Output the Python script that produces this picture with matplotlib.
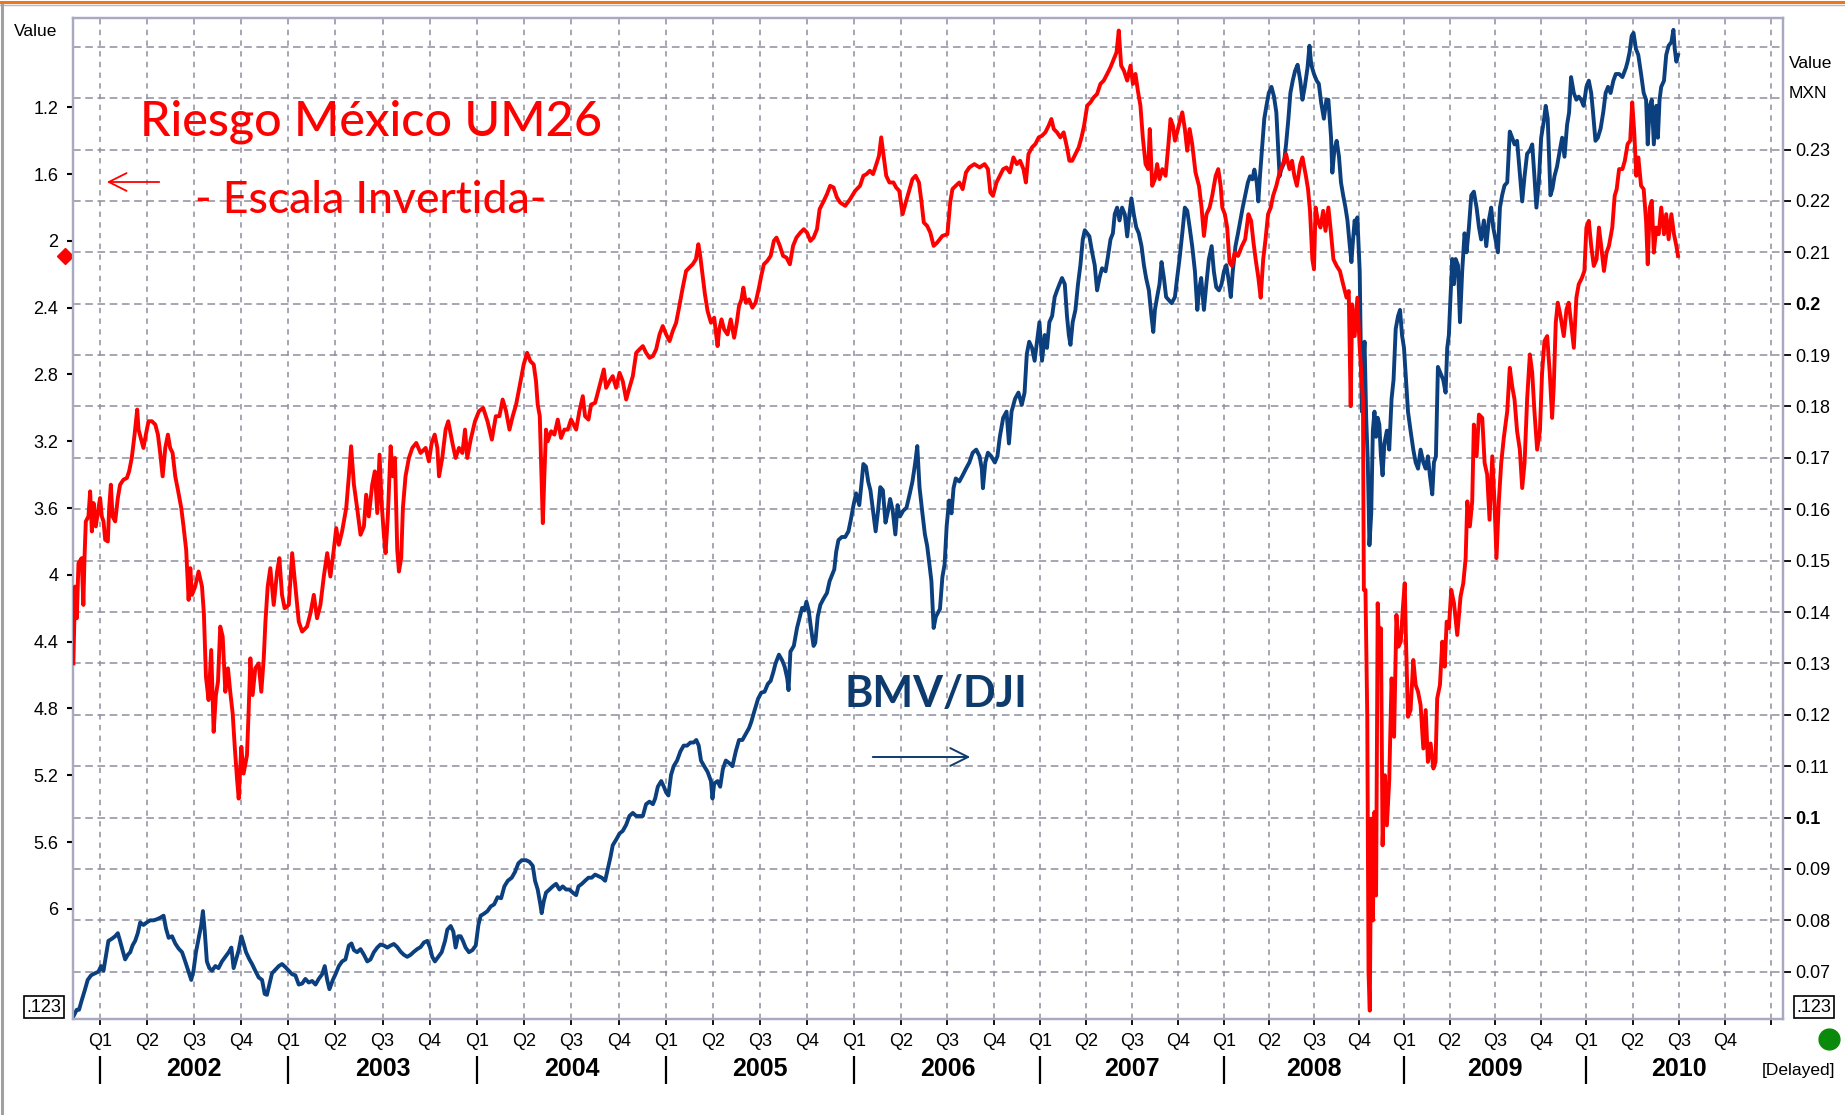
import numpy as np
import matplotlib
matplotlib.use("Agg")
import matplotlib.pyplot as plt
from matplotlib.lines import Line2D

# Riesgo Mexico UM26 (left axis, inverted) - time in decimal years
red_time = [
    2001.858, 2001.867, 2001.876, 2001.885, 2001.902, 2001.911, 2001.917, 2001.924, 2001.938, 2001.947,
    2001.956, 2001.965, 2001.977, 2001.991, 2002.000, 2002.009, 2002.018, 2002.027, 2002.041, 2002.048,
    2002.057, 2002.066, 2002.080, 2002.094, 2002.106, 2002.124, 2002.142, 2002.154, 2002.168, 2002.183,
    2002.197, 2002.204, 2002.218, 2002.230, 2002.243, 2002.257, 2002.275, 2002.293, 2002.307, 2002.319,
    2002.332, 2002.346, 2002.360, 2002.372, 2002.385, 2002.399, 2002.413, 2002.431, 2002.443, 2002.457,
    2002.470, 2002.479, 2002.488, 2002.505, 2002.523, 2002.541, 2002.551, 2002.562, 2002.576, 2002.590,
    2002.603, 2002.615, 2002.626, 2002.638, 2002.651, 2002.665, 2002.679, 2002.691, 2002.704, 2002.715,
    2002.727, 2002.736, 2002.750, 2002.762, 2002.780, 2002.789, 2002.798, 2002.810, 2002.824, 2002.842,
    2002.856, 2002.869, 2002.878, 2002.890, 2002.904, 2002.922, 2002.940, 2002.952, 2002.966, 2002.980,
    2003.002, 2003.020, 2003.037, 2003.055, 2003.073, 2003.099, 2003.117, 2003.135, 2003.152, 2003.170,
    2003.188, 2003.206, 2003.223, 2003.241, 2003.254, 2003.268, 2003.285, 2003.307, 2003.321, 2003.333,
    2003.348, 2003.365, 2003.383, 2003.401, 2003.413, 2003.427, 2003.445, 2003.459, 2003.472, 2003.484,
    2003.495, 2003.507, 2003.516, 2003.528, 2003.543, 2003.555, 2003.566, 2003.578, 2003.587, 2003.599,
    2003.608, 2003.622, 2003.640, 2003.658, 2003.679, 2003.702, 2003.729, 2003.746, 2003.761, 2003.777,
    2003.791, 2003.800, 2003.817, 2003.835, 2003.849, 2003.871, 2003.888, 2003.906, 2003.924, 2003.938,
    2003.950, 2003.968, 2003.991, 2004.012, 2004.034, 2004.057, 2004.080, 2004.101,
    2004.120, 2004.137, 2004.155, 2004.173, 2004.190, 2004.208, 2004.225, 2004.248, 2004.266, 2004.283,
    2004.301, 2004.313, 2004.322, 2004.333, 2004.340, 2004.349, 2004.357, 2004.366, 2004.375, 2004.393,
    2004.410, 2004.428, 2004.445, 2004.463, 2004.481, 2004.498, 2004.525, 2004.542, 2004.560, 2004.572,
    2004.590, 2004.604, 2004.625, 2004.639, 2004.657, 2004.671, 2004.683, 2004.701, 2004.718, 2004.736,
    2004.754, 2004.771, 2004.789, 2004.806, 2004.824, 2004.842, 2004.859, 2004.877, 2004.894, 2004.912,
    2004.930, 2004.947, 2004.965, 2004.982, 2005.000, 2005.018, 2005.035, 2005.053, 2005.070, 2005.088,
    2005.106, 2005.123, 2005.141, 2005.158, 2005.171, 2005.181, 2005.194, 2005.206, 2005.220, 2005.238,
    2005.255, 2005.273, 2005.282, 2005.294, 2005.308, 2005.326, 2005.343, 2005.361, 2005.375, 2005.387,
    2005.400, 2005.410, 2005.423, 2005.440, 2005.458, 2005.475, 2005.493, 2005.505, 2005.519, 2005.537,
    2005.555, 2005.572, 2005.586, 2005.604, 2005.621, 2005.639, 2005.657, 2005.674, 2005.692, 2005.713,
    2005.731, 2005.748, 2005.766, 2005.783, 2005.801, 2005.815, 2005.833, 2005.854, 2005.871, 2005.889,
    2005.907, 2005.924, 2005.951, 2005.977, 2006.004, 2006.030, 2006.048, 2006.065, 2006.083, 2006.100,
    2006.118, 2006.132, 2006.144, 2006.157, 2006.171, 2006.188, 2006.210, 2006.224, 2006.241, 2006.259,
    2006.276, 2006.294, 2006.312, 2006.329, 2006.347, 2006.361, 2006.373, 2006.391, 2006.408, 2006.426,
    2006.445, 2006.473, 2006.500, 2006.515, 2006.527, 2006.545, 2006.564, 2006.582, 2006.600, 2006.618,
    2006.645, 2006.673, 2006.700, 2006.718, 2006.731, 2006.745, 2006.764, 2006.782, 2006.800, 2006.818,
    2006.836, 2006.855, 2006.873, 2006.891, 2006.909, 2006.922, 2006.936, 2006.955, 2006.973, 2006.991,
    2007.009, 2007.027, 2007.045, 2007.060, 2007.073, 2007.091, 2007.109, 2007.127, 2007.145, 2007.158,
    2007.173, 2007.191, 2007.209, 2007.224, 2007.238, 2007.255, 2007.273, 2007.291, 2007.309, 2007.327,
    2007.345, 2007.364, 2007.382, 2007.400, 2007.415, 2007.427, 2007.440, 2007.455, 2007.473, 2007.491,
    2007.504, 2007.518, 2007.531, 2007.545, 2007.558, 2007.573, 2007.587, 2007.596, 2007.609, 2007.624,
    2007.636, 2007.649, 2007.664, 2007.682, 2007.696, 2007.709, 2007.722, 2007.733, 2007.745, 2007.758,
    2007.773, 2007.787, 2007.800, 2007.813, 2007.827, 2007.845, 2007.864, 2007.878, 2007.891, 2007.905,
    2007.922, 2007.936, 2007.955, 2007.969, 2007.982, 2007.991, 2008.005, 2008.018, 2008.031, 2008.045,
    2008.060, 2008.078, 2008.100, 2008.118, 2008.136, 2008.151, 2008.164, 2008.176, 2008.191, 2008.204,
    2008.218, 2008.231, 2008.245, 2008.260, 2008.273, 2008.291, 2008.309, 2008.327, 2008.345, 2008.364,
    2008.378, 2008.391, 2008.405, 2008.424, 2008.436, 2008.455, 2008.467, 2008.478, 2008.491, 2008.500,
    2008.509, 2008.522, 2008.536, 2008.551, 2008.564,
    2008.580, 2008.595, 2008.608, 2008.626, 2008.644, 2008.662, 2008.681, 2008.693, 2008.704, 2008.712,
    2008.726, 2008.741, 2008.754, 2008.763, 2008.772, 2008.777, 2008.786, 2008.796, 2008.803, 2008.810,
    2008.818, 2008.827, 2008.836, 2008.845, 2008.854, 2008.863, 2008.872, 2008.881, 2008.894, 2008.905,
    2008.918, 2008.931, 2008.945, 2008.958, 2008.969, 2008.982, 2008.993, 2009.004, 2009.011, 2009.022,
    2009.036, 2009.051, 2009.064, 2009.077, 2009.091, 2009.106, 2009.119, 2009.131, 2009.146, 2009.161,
    2009.173, 2009.182, 2009.197, 2009.210, 2009.223, 2009.234, 2009.246, 2009.259, 2009.274, 2009.292,
    2009.310, 2009.325, 2009.338, 2009.347, 2009.361, 2009.374, 2009.383, 2009.398, 2009.411, 2009.429,
    2009.442, 2009.456, 2009.469, 2009.484, 2009.496, 2009.507, 2009.520, 2009.533, 2009.547, 2009.566,
    2009.580, 2009.593, 2009.606, 2009.620, 2009.635, 2009.648, 2009.661, 2009.675, 2009.690, 2009.703,
    2009.715, 2009.730, 2009.745, 2009.757, 2009.770, 2009.785, 2009.799, 2009.812, 2009.821, 2009.832,
    2009.843, 2009.858, 2009.876, 2009.891, 2009.903, 2009.916, 2009.931, 2009.945, 2009.958, 2009.976,
    2009.989, 2010.000, 2010.013, 2010.026, 2010.040, 2010.055, 2010.068, 2010.080, 2010.095, 2010.109,
    2010.122, 2010.140, 2010.153, 2010.164, 2010.177, 2010.195, 2010.208, 2010.223, 2010.237, 2010.248,
    2010.259, 2010.270, 2010.281, 2010.296, 2010.310, 2010.323, 2010.332, 2010.343, 2010.354, 2010.365,
    2010.378, 2010.391, 2010.405, 2010.420, 2010.432, 2010.445, 2010.460, 2010.474, 2010.487, 2010.496,
]
red_value = [
    4.53, 4.07, 4.26, 3.93, 3.90, 4.18, 3.90, 3.68, 3.65, 3.50,
    3.74, 3.57, 3.71, 3.60, 3.54, 3.65, 3.68, 3.79, 3.80, 3.60,
    3.46, 3.65, 3.68, 3.54, 3.46, 3.43, 3.42, 3.38, 3.30, 3.16,
    3.01, 3.13, 3.19, 3.24, 3.16, 3.08, 3.08, 3.10, 3.16, 3.27,
    3.41, 3.24, 3.16, 3.24, 3.27, 3.41, 3.49, 3.60, 3.71, 3.85,
    4.15, 3.96, 4.12, 4.07, 3.98, 4.07, 4.23, 4.61, 4.75, 4.45,
    4.94, 4.72, 4.64, 4.31, 4.37, 4.70, 4.56, 4.70, 4.83, 5.03,
    5.22, 5.34, 5.03, 5.19, 5.08, 4.81, 4.50, 4.72, 4.56, 4.53,
    4.70, 4.50, 4.28, 4.07, 3.96, 4.18, 3.98, 3.90, 4.12, 4.20,
    4.18, 3.87, 4.07, 4.28, 4.34, 4.31, 4.23, 4.12, 4.26, 4.18,
    4.01, 3.87, 4.01, 3.85, 3.72, 3.82, 3.74, 3.60, 3.41, 3.23,
    3.46, 3.60, 3.76, 3.71, 3.52, 3.65, 3.46, 3.38, 3.63, 3.28,
    3.57, 3.76, 3.87, 3.65, 3.23, 3.41, 3.30, 3.85, 3.98, 3.90,
    3.60, 3.41, 3.30, 3.24, 3.21, 3.27, 3.24, 3.32, 3.21, 3.16,
    3.24, 3.41, 3.30, 3.13, 3.08, 3.21, 3.30, 3.24, 3.27, 3.13,
    3.30, 3.19, 3.08, 3.02, 3.00, 3.08, 3.19, 3.05,
    3.05, 2.95, 3.02, 3.13, 3.05, 2.98, 2.88, 2.74, 2.67, 2.72,
    2.74, 2.84, 2.98, 3.05, 3.34, 3.69, 3.41, 3.13, 3.20, 3.14,
    3.16, 3.07, 3.18, 3.13, 3.13, 3.07, 3.13, 3.02, 2.93, 3.05,
    3.07, 2.98, 2.97, 2.91, 2.83, 2.77, 2.88, 2.84, 2.81, 2.88,
    2.79, 2.84, 2.95, 2.88, 2.81, 2.67, 2.65, 2.63, 2.67, 2.70,
    2.69, 2.65, 2.56, 2.51, 2.56, 2.60, 2.54, 2.49, 2.39, 2.28,
    2.18, 2.16, 2.14, 2.11, 2.02, 2.09, 2.21, 2.32, 2.42, 2.49,
    2.46, 2.63, 2.53, 2.47, 2.53, 2.56, 2.47, 2.58, 2.49, 2.39,
    2.35, 2.28, 2.37, 2.35, 2.40, 2.37, 2.28, 2.21, 2.14, 2.12,
    2.09, 2.00, 1.98, 2.03, 2.09, 2.10, 2.14, 2.03, 1.98, 1.95,
    1.93, 1.95, 2.00, 1.98, 1.93, 1.81, 1.77, 1.72, 1.67, 1.68,
    1.74, 1.77, 1.79, 1.75, 1.70, 1.67, 1.61, 1.60, 1.58, 1.60,
    1.54, 1.49, 1.38, 1.49, 1.61, 1.65, 1.65, 1.68, 1.70, 1.84,
    1.77, 1.70, 1.63, 1.61, 1.65, 1.77, 1.89, 1.91, 1.95, 2.03,
    2.01, 1.97, 1.96, 1.77, 1.69, 1.67, 1.65, 1.69, 1.59, 1.56,
    1.54, 1.56, 1.54, 1.57, 1.71, 1.73, 1.65, 1.61, 1.57, 1.56,
    1.59, 1.50, 1.54, 1.52, 1.57, 1.65, 1.48, 1.44, 1.42, 1.38,
    1.37, 1.35, 1.31, 1.27, 1.33, 1.35, 1.38, 1.35, 1.44, 1.52,
    1.52, 1.48, 1.44, 1.38, 1.31, 1.19, 1.17, 1.14, 1.12, 1.06,
    1.04, 1.00, 0.96, 0.91, 0.87, 0.74, 0.95, 0.98, 1.04, 0.95,
    1.06, 1.00, 1.10, 1.19, 1.38, 1.54, 1.57, 1.33, 1.67, 1.63,
    1.54, 1.63, 1.57, 1.61, 1.44, 1.27, 1.31, 1.40, 1.35, 1.29,
    1.23, 1.33, 1.46, 1.33, 1.42, 1.59, 1.67, 1.80, 1.97, 1.84,
    1.80, 1.73, 1.61, 1.57, 1.67, 1.80, 1.84, 1.92, 2.13, 2.15,
    2.07, 2.09, 2.03, 1.99, 1.84, 1.88, 2.01, 2.11, 2.22, 2.34,
    2.11, 1.99, 1.84, 1.80, 1.73, 1.67, 1.59, 1.54, 1.48, 1.57,
    1.52, 1.61, 1.67, 1.54, 1.50, 1.61, 1.69, 1.82, 2.11, 2.17,
    1.80, 1.88, 1.92, 1.82, 1.94,
    1.80, 1.96, 2.11, 2.15, 2.18, 2.26, 2.34, 2.30, 2.99, 2.38,
    2.57, 2.34, 2.64, 2.79, 2.95, 4.09, 4.09, 4.85, 6.38, 6.61,
    5.46, 6.07, 5.42, 5.92, 4.17, 4.47, 4.32, 5.62, 5.20, 5.50,
    5.23, 4.62, 4.97, 4.24, 4.43, 4.40, 4.21, 4.05, 4.40, 4.85,
    4.81, 4.51, 4.66, 4.70, 4.78, 5.04, 4.81, 5.12, 5.01, 5.16,
    5.12, 4.74, 4.66, 4.40, 4.55, 4.28, 4.32, 4.09, 4.17, 4.36,
    4.13, 4.05, 3.90, 3.56, 3.71, 3.56, 3.10, 3.29, 3.04, 3.06,
    3.33, 3.40, 3.67, 3.29, 3.56, 3.90, 3.56, 3.33, 3.18, 3.02,
    2.76, 2.87, 2.95, 3.14, 3.25, 3.48, 3.33, 2.95, 2.68, 2.79,
    3.02, 3.25, 3.14, 2.79, 2.60, 2.57, 2.79, 3.06, 2.87, 2.49,
    2.37, 2.45, 2.57, 2.41, 2.37, 2.49, 2.64, 2.34, 2.26, 2.22,
    2.18, 1.92, 1.88, 2.03, 2.15, 2.11, 1.92, 2.03, 2.18, 2.07,
    2.03, 1.92, 1.73, 1.69, 1.57, 1.57, 1.52, 1.42, 1.40, 1.17,
    1.35, 1.61, 1.50, 1.67, 1.69, 1.88, 2.14, 1.80, 1.76, 2.07,
    1.92, 1.96, 1.80, 1.96, 1.84, 1.99, 1.84, 1.96, 2.03, 2.09,
]

# BMV/DJI in MXN (right axis)
blue_time = [
    2001.858, 2001.876, 2001.888, 2001.902, 2001.917, 2001.934, 2001.952, 2001.973, 2001.991, 2002.005,
    2002.018, 2002.030, 2002.044, 2002.062, 2002.080, 2002.094, 2002.106, 2002.119, 2002.133, 2002.147,
    2002.160, 2002.172, 2002.186, 2002.200, 2002.213, 2002.230, 2002.248, 2002.266, 2002.284, 2002.301,
    2002.319, 2002.337, 2002.350, 2002.364, 2002.382, 2002.399, 2002.417, 2002.435, 2002.452, 2002.470,
    2002.484, 2002.496, 2002.509, 2002.523, 2002.537, 2002.546, 2002.555, 2002.567, 2002.580, 2002.594,
    2002.612, 2002.629, 2002.647, 2002.665, 2002.683, 2002.697, 2002.709, 2002.722, 2002.736, 2002.750,
    2002.762, 2002.775, 2002.793, 2002.807, 2002.824, 2002.842, 2002.860, 2002.874, 2002.886, 2002.899,
    2002.913, 2002.931, 2002.949, 2002.966, 2002.984, 2003.002, 2003.020, 2003.037, 2003.055, 2003.073,
    2003.090, 2003.108, 2003.126, 2003.144, 2003.161, 2003.179, 2003.193, 2003.206, 2003.218, 2003.236,
    2003.250, 2003.268, 2003.285, 2003.303, 2003.321, 2003.335, 2003.348, 2003.365, 2003.383, 2003.401,
    2003.419, 2003.436, 2003.454, 2003.472, 2003.489, 2003.507, 2003.525, 2003.543, 2003.560, 2003.578,
    2003.596, 2003.613, 2003.631, 2003.649, 2003.667, 2003.684, 2003.702, 2003.720, 2003.738, 2003.752,
    2003.764, 2003.778, 2003.796, 2003.814, 2003.832, 2003.844, 2003.862, 2003.876, 2003.888, 2003.901,
    2003.915, 2003.927, 2003.941, 2003.959, 2003.977, 2003.995, 2004.009, 2004.021, 2004.039, 2004.057,
    2004.074, 2004.092, 2004.110,
    2004.129, 2004.146, 2004.164, 2004.185, 2004.202, 2004.220, 2004.238, 2004.261, 2004.278, 2004.296,
    2004.308, 2004.322, 2004.336, 2004.343, 2004.354, 2004.366, 2004.384, 2004.401, 2004.419, 2004.437,
    2004.454, 2004.472, 2004.489, 2004.507, 2004.525, 2004.537, 2004.555, 2004.572, 2004.590, 2004.607,
    2004.625, 2004.643, 2004.660, 2004.678, 2004.692, 2004.706, 2004.718, 2004.736, 2004.754, 2004.771,
    2004.789, 2004.806, 2004.824, 2004.842, 2004.859, 2004.877, 2004.894, 2004.912, 2004.930, 2004.942,
    2004.956, 2004.974, 2004.988, 2005.000, 2005.012, 2005.026, 2005.040, 2005.058, 2005.076, 2005.093,
    2005.111, 2005.129, 2005.146, 2005.160, 2005.173, 2005.185, 2005.202, 2005.220, 2005.238, 2005.246,
    2005.255, 2005.273, 2005.287, 2005.301, 2005.317, 2005.335, 2005.352, 2005.370, 2005.387, 2005.405,
    2005.423, 2005.440, 2005.452, 2005.470, 2005.488, 2005.505, 2005.523, 2005.540, 2005.555, 2005.569,
    2005.581, 2005.599, 2005.616, 2005.629, 2005.643, 2005.650, 2005.660, 2005.678, 2005.695, 2005.710,
    2005.722, 2005.734, 2005.745, 2005.757, 2005.769, 2005.783, 2005.792, 2005.805, 2005.819, 2005.836,
    2005.854, 2005.868, 2005.880, 2005.893, 2005.903, 2005.915, 2005.933, 2005.951, 2005.968, 2005.981,
    2005.995, 2006.009, 2006.026, 2006.039, 2006.048, 2006.062, 2006.074, 2006.086, 2006.100, 2006.114,
    2006.127, 2006.139, 2006.153, 2006.167, 2006.181, 2006.192, 2006.206, 2006.220, 2006.232, 2006.245,
    2006.262, 2006.280, 2006.298, 2006.312, 2006.326, 2006.338, 2006.350, 2006.364, 2006.379, 2006.391,
    2006.403, 2006.414, 2006.426, 2006.438,
    2006.460, 2006.473, 2006.485, 2006.496, 2006.509, 2006.522, 2006.533, 2006.545, 2006.564, 2006.582,
    2006.600, 2006.618, 2006.636, 2006.655, 2006.673, 2006.685, 2006.691, 2006.704, 2006.718, 2006.736,
    2006.755, 2006.769, 2006.782, 2006.800, 2006.818, 2006.831, 2006.845, 2006.864, 2006.882, 2006.900,
    2006.915, 2006.927, 2006.940, 2006.955, 2006.969, 2006.982, 2006.995, 2007.009, 2007.024, 2007.036,
    2007.049, 2007.064, 2007.078, 2007.091, 2007.104, 2007.118, 2007.133, 2007.145, 2007.155, 2007.164,
    2007.176, 2007.191, 2007.205, 2007.218, 2007.231, 2007.242, 2007.255, 2007.267, 2007.282, 2007.296,
    2007.309, 2007.322, 2007.336, 2007.355, 2007.369, 2007.382, 2007.395, 2007.405, 2007.418, 2007.431,
    2007.445, 2007.460, 2007.473, 2007.485, 2007.496, 2007.509, 2007.522, 2007.536, 2007.551, 2007.564,
    2007.576, 2007.591, 2007.605, 2007.615, 2007.624, 2007.636, 2007.649, 2007.660, 2007.673, 2007.685,
    2007.700, 2007.715, 2007.733, 2007.745, 2007.758, 2007.773, 2007.787, 2007.800, 2007.813, 2007.827,
    2007.842, 2007.855, 2007.864, 2007.876, 2007.891, 2007.904, 2007.918, 2007.933, 2007.945, 2007.958,
    2007.973, 2007.987, 2008.000, 2008.013, 2008.027, 2008.038, 2008.049, 2008.064, 2008.078, 2008.091,
    2008.104, 2008.118, 2008.133, 2008.145, 2008.158, 2008.169, 2008.182, 2008.191, 2008.200, 2008.213,
    2008.224, 2008.236, 2008.249, 2008.264, 2008.278, 2008.291, 2008.300, 2008.309, 2008.318, 2008.333,
    2008.345, 2008.358, 2008.369, 2008.382, 2008.395, 2008.409, 2008.424, 2008.436, 2008.449, 2008.464,
    2008.475, 2008.485, 2008.500, 2008.515, 2008.527, 2008.540, 2008.555, 2008.569,
    2008.580, 2008.595, 2008.602, 2008.613, 2008.626, 2008.639, 2008.650, 2008.662, 2008.675, 2008.686,
    2008.699, 2008.708, 2008.717, 2008.726, 2008.735, 2008.741, 2008.748, 2008.754, 2008.759, 2008.766,
    2008.774, 2008.781, 2008.790, 2008.799, 2008.808, 2008.818, 2008.827, 2008.836, 2008.845, 2008.854,
    2008.863, 2008.872, 2008.881, 2008.891, 2008.905, 2008.918, 2008.931, 2008.942, 2008.954, 2008.967,
    2008.978, 2008.989, 2009.000, 2009.011, 2009.022, 2009.036, 2009.051, 2009.064, 2009.077, 2009.091,
    2009.106, 2009.119, 2009.131, 2009.142, 2009.155, 2009.164, 2009.175, 2009.186, 2009.201, 2009.215,
    2009.228, 2009.237, 2009.246, 2009.255, 2009.265, 2009.274, 2009.283, 2009.296, 2009.307, 2009.319,
    2009.332, 2009.343, 2009.356, 2009.369, 2009.383, 2009.398, 2009.411, 2009.423, 2009.438, 2009.451,
    2009.465, 2009.478, 2009.489, 2009.502, 2009.515, 2009.526, 2009.538, 2009.551, 2009.566, 2009.580,
    2009.593, 2009.606, 2009.620, 2009.635, 2009.648, 2009.661, 2009.675, 2009.690, 2009.703, 2009.715,
    2009.726, 2009.739, 2009.752, 2009.766, 2009.777, 2009.788, 2009.803, 2009.814, 2009.825, 2009.839,
    2009.854, 2009.867, 2009.880, 2009.894, 2009.905, 2009.916, 2009.931, 2009.945, 2009.958, 2009.971,
    2009.985, 2010.000, 2010.013, 2010.026, 2010.036, 2010.049, 2010.062, 2010.077, 2010.091, 2010.104,
    2010.117, 2010.131, 2010.146, 2010.159, 2010.177, 2010.195, 2010.214, 2010.223, 2010.234, 2010.245,
    2010.255, 2010.268, 2010.281, 2010.296, 2010.310, 2010.323, 2010.332, 2010.343, 2010.354, 2010.365,
    2010.378, 2010.387, 2010.396, 2010.405, 2010.420, 2010.432, 2010.445, 2010.460, 2010.471, 2010.478,
    2010.487, 2010.496,
]
blue_value = [
    0.0613, 0.0626, 0.0626, 0.0644, 0.0662, 0.0684, 0.0693, 0.0697, 0.0700, 0.0711,
    0.0702, 0.0729, 0.0760, 0.0764, 0.0769, 0.0775, 0.0760, 0.0742, 0.0724, 0.0733,
    0.0738, 0.0751, 0.0760, 0.0775, 0.0796, 0.0791, 0.0796, 0.0800, 0.0800, 0.0802,
    0.0805, 0.0809, 0.0784, 0.0766, 0.0769, 0.0755, 0.0745, 0.0738, 0.0720, 0.0700,
    0.0684, 0.0702, 0.0738, 0.0764, 0.0791, 0.0818, 0.0782, 0.0720, 0.0707, 0.0702,
    0.0711, 0.0707, 0.0720, 0.0729, 0.0738, 0.0747, 0.0707, 0.0724, 0.0742, 0.0769,
    0.0755, 0.0738, 0.0724, 0.0715, 0.0702, 0.0689, 0.0684, 0.0657, 0.0655, 0.0675,
    0.0697, 0.0704, 0.0711, 0.0715, 0.0709, 0.0702, 0.0695, 0.0693, 0.0675, 0.0677,
    0.0686, 0.0679, 0.0682, 0.0675, 0.0686, 0.0695, 0.0711, 0.0684, 0.0666, 0.0684,
    0.0695, 0.0711, 0.0720, 0.0724, 0.0751, 0.0755, 0.0742, 0.0738, 0.0744, 0.0733,
    0.0720, 0.0724, 0.0738, 0.0747, 0.0753, 0.0751, 0.0747, 0.0751, 0.0754, 0.0748,
    0.0739, 0.0733, 0.0729, 0.0733, 0.0739, 0.0744, 0.0748, 0.0757, 0.0760, 0.0747,
    0.0729, 0.0720, 0.0729, 0.0738, 0.0760, 0.0782, 0.0789, 0.0778, 0.0747, 0.0769,
    0.0769, 0.0760, 0.0747, 0.0738, 0.0742, 0.0751, 0.0791, 0.0809, 0.0813, 0.0818,
    0.0827, 0.0831, 0.0845,
    0.0843, 0.0866, 0.0877, 0.0883, 0.0894, 0.0911, 0.0917, 0.0917, 0.0914, 0.0906,
    0.0877, 0.0860, 0.0831, 0.0814, 0.0837, 0.0854, 0.0860, 0.0866, 0.0871, 0.0860,
    0.0866, 0.0860, 0.0860, 0.0854, 0.0849, 0.0866, 0.0871, 0.0877, 0.0883, 0.0883,
    0.0889, 0.0886, 0.0883, 0.0877, 0.0900, 0.0923, 0.0946, 0.0957, 0.0969, 0.0974,
    0.0986, 0.1003, 0.1009, 0.1003, 0.1003, 0.1003, 0.1026, 0.1031, 0.1026, 0.1037,
    0.1060, 0.1071, 0.1060, 0.1049, 0.1043, 0.1083, 0.1100, 0.1111, 0.1129, 0.1140,
    0.1140, 0.1146, 0.1146, 0.1151, 0.1140, 0.1111, 0.1100, 0.1089, 0.1071, 0.1037,
    0.1066, 0.1071, 0.1060, 0.1094, 0.1111, 0.1106, 0.1100, 0.1129, 0.1151, 0.1151,
    0.1163, 0.1174, 0.1186, 0.1209, 0.1231, 0.1243, 0.1245, 0.1260, 0.1266, 0.1283,
    0.1300, 0.1317, 0.1306, 0.1294, 0.1271, 0.1248, 0.1323, 0.1334, 0.1369, 0.1391,
    0.1408, 0.1403, 0.1420, 0.1403, 0.1369, 0.1334, 0.1340, 0.1391, 0.1414, 0.1426,
    0.1437, 0.1460, 0.1471, 0.1483, 0.1517, 0.1540, 0.1546, 0.1546, 0.1557, 0.1580,
    0.1608, 0.1631, 0.1608, 0.1654, 0.1688, 0.1683, 0.1654, 0.1637, 0.1597, 0.1557,
    0.1597, 0.1643, 0.1637, 0.1574, 0.1597, 0.1620, 0.1597, 0.1551, 0.1608, 0.1586,
    0.1597, 0.1603, 0.1631, 0.1654, 0.1688, 0.1723, 0.1643, 0.1597, 0.1551, 0.1529,
    0.1494, 0.1460, 0.1369, 0.1391,
    0.1406, 0.1468, 0.1493, 0.1567, 0.1617, 0.1592, 0.1641, 0.1660, 0.1654, 0.1666,
    0.1679, 0.1691, 0.1710, 0.1716, 0.1703, 0.1679, 0.1641, 0.1691, 0.1710, 0.1703,
    0.1691, 0.1703, 0.1741, 0.1778, 0.1790, 0.1728, 0.1790, 0.1815, 0.1827, 0.1803,
    0.1827, 0.1902, 0.1926, 0.1914, 0.1889, 0.1926, 0.1964, 0.1889, 0.1939, 0.1914,
    0.1964, 0.1976, 0.2013, 0.2026, 0.2038, 0.2050, 0.2038, 0.1976, 0.1939, 0.1920,
    0.1964, 0.1988, 0.2038, 0.2075, 0.2125, 0.2143, 0.2137, 0.2131, 0.2100, 0.2075,
    0.2026, 0.2050, 0.2069, 0.2063, 0.2094, 0.2125, 0.2137, 0.2174, 0.2187, 0.2162,
    0.2187, 0.2174, 0.2131, 0.2174, 0.2205, 0.2174, 0.2149, 0.2137, 0.2112, 0.2075,
    0.2050, 0.2026, 0.1976, 0.1945, 0.1988, 0.2013, 0.2038, 0.2081, 0.2050, 0.2013,
    0.2007, 0.2001, 0.2013, 0.2050, 0.2087, 0.2137, 0.2187, 0.2181, 0.2149, 0.2112,
    0.2063, 0.1988, 0.2026, 0.2050, 0.1988, 0.2038, 0.2087, 0.2112, 0.2063, 0.2032,
    0.2026, 0.2038, 0.2063, 0.2075, 0.2044, 0.2013, 0.2063, 0.2112, 0.2137, 0.2162,
    0.2187, 0.2211, 0.2236, 0.2248, 0.2242, 0.2261, 0.2236, 0.2199, 0.2248, 0.2310,
    0.2360, 0.2385, 0.2410, 0.2422, 0.2403, 0.2372, 0.2310, 0.2248, 0.2261, 0.2273,
    0.2310, 0.2360, 0.2410, 0.2434, 0.2453, 0.2465, 0.2434, 0.2397, 0.2422, 0.2459,
    0.2502, 0.2465, 0.2447, 0.2434, 0.2428, 0.2391, 0.2360, 0.2397,
    0.2397, 0.2323, 0.2255, 0.2298, 0.2317, 0.2286, 0.2236, 0.2211, 0.2187, 0.2162,
    0.2112, 0.2081, 0.2125, 0.2162, 0.2137, 0.2168, 0.2112, 0.2063, 0.1939, 0.1790,
    0.1889, 0.1926, 0.1778, 0.1691, 0.1530, 0.1592, 0.1753, 0.1790, 0.1741, 0.1778,
    0.1765, 0.1703, 0.1666, 0.1728, 0.1753, 0.1716, 0.1815, 0.1852, 0.1951, 0.1976,
    0.1988, 0.1939, 0.1914, 0.1852, 0.1790, 0.1753, 0.1716, 0.1691, 0.1679, 0.1716,
    0.1691, 0.1679, 0.1703, 0.1666, 0.1629, 0.1691, 0.1703, 0.1877, 0.1864, 0.1852,
    0.1827, 0.1914, 0.1939, 0.2013, 0.2087, 0.2038, 0.2087, 0.2075, 0.1964, 0.2063,
    0.2137, 0.2100, 0.2149, 0.2211, 0.2218, 0.2187, 0.2149, 0.2125, 0.2162, 0.2112,
    0.2162, 0.2187, 0.2149, 0.2125, 0.2100, 0.2187, 0.2211, 0.2230, 0.2236, 0.2335,
    0.2323, 0.2310, 0.2317, 0.2255, 0.2199, 0.2248, 0.2292, 0.2298, 0.2310, 0.2248,
    0.2187, 0.2236, 0.2323, 0.2354, 0.2385, 0.2360, 0.2211, 0.2224, 0.2248, 0.2267,
    0.2298, 0.2323, 0.2286, 0.2348, 0.2372, 0.2441, 0.2410, 0.2397, 0.2403, 0.2397,
    0.2385, 0.2422, 0.2434, 0.2410, 0.2372, 0.2317, 0.2323, 0.2341, 0.2372, 0.2410,
    0.2422, 0.2410, 0.2434, 0.2447, 0.2447, 0.2441, 0.2459, 0.2471, 0.2490, 0.2521,
    0.2527, 0.2496, 0.2484, 0.2447, 0.2410, 0.2397, 0.2310, 0.2385, 0.2397, 0.2310,
    0.2385, 0.2323, 0.2397, 0.2422, 0.2434, 0.2484, 0.2502, 0.2509, 0.2533, 0.2496,
    0.2471, 0.2484,
]

left_ticks = [1.2, 1.6, 2.0, 2.4, 2.8, 3.2, 3.6, 4.0, 4.4, 4.8, 5.2, 5.6, 6.0]
left_labels = ["1.2", "1.6", "2", "2.4", "2.8", "3.2", "3.6", "4", "4.4", "4.8", "5.2", "5.6", "6"]
right_ticks = [0.07, 0.08, 0.09, 0.10, 0.11, 0.12, 0.13, 0.14, 0.15, 0.16, 0.17, 0.18, 0.19,
               0.20, 0.21, 0.22, 0.23]
right_labels = ["0.07", "0.08", "0.09", "0.1", "0.11", "0.12", "0.13", "0.14", "0.15", "0.16",
                "0.17", "0.18", "0.19", "0.2", "0.21", "0.22", "0.23"]
years = [2002, 2003, 2004, 2005, 2006, 2007, 2008, 2009, 2010]
quarter_names = ["Q1", "Q2", "Q3", "Q4"]

# the time axis of the source chart is not evenly spaced, so map year starts to positions
axis_years = [2001, 2002, 2003, 2004, 2005, 2006, 2007, 2008, 2009, 2010, 2011, 2012]
axis_pos = [-75, 85, 245, 405, 566, 726, 884, 1040, 1193, 1348, 1505, 1660]

RED = "#ff0000"
BLUE = "#0b3f7e"
GRID = "#8e8e9e"
FRAME = "#a9a9c2"

plt.rcParams['font.family'] = ['Liberation Sans', 'DejaVu Sans']


def fwd(x):
    return np.interp(x, axis_years, axis_pos)


def inv(p):
    return np.interp(p, axis_pos, axis_years)


fig = plt.figure(figsize=(18.45, 11.15), dpi=100)
ax = fig.add_axes([0.03957, 0.0861, 0.92683, 0.89776])
ax.set_xscale('function', functions=(fwd, inv))
ax.set_xlim(2001.856, 2011.065)
ax2 = ax.twinx()

# blue series on the main axes, scale on the right
ax.plot(blue_time, blue_value, color=BLUE, lw=2.8, zorder=3)
ax.set_ylim(0.0608, 0.2556)
ax.yaxis.set_ticks_position('right')
ax.set_yticks(right_ticks)
ax.set_yticklabels(right_labels)
for lab in ax.get_yticklabels():
    if lab.get_text() in ("0.1", "0.2"):
        lab.set_fontweight('bold')
        lab.set_fontsize(14.5)
ax.tick_params(axis='y', which='both', direction='out', length=6, width=1.3, pad=3,
               labelsize=13, left=False, labelleft=False, right=True, labelright=True)

# quarters along the bottom
quarter_ticks = [y + q / 4 for y in years for q in range(4)] + [2011.0]
quarter_labels = [quarter_names[i % 4] for i in range(len(quarter_ticks) - 1)] + [""]
ax.set_xticks(quarter_ticks)
ax.set_xticklabels(quarter_labels)
ax.tick_params(axis='x', direction='out', length=4, width=1.3, pad=6, labelsize=13)

ax.set_axisbelow(True)
ax.xaxis.grid(True, color=GRID, linestyle=(0, (3.5, 3.5)), lw=1.1)
ax.yaxis.grid(True, color=GRID, linestyle=(0, (5, 3)), lw=1.1)
for v in (0.24, 0.25):
    ax.axhline(v, color=GRID, linestyle=(0, (5, 3)), lw=1.1, zorder=0.5)

for sp in ax.spines.values():
    sp.set_color(FRAME)
    sp.set_linewidth(1.6)

# year labels with separators
xt = ax.get_xaxis_transform()
for y in years:
    ax.text(y + 0.5, -0.050, str(y), transform=xt, ha='center', va='center',
            fontsize=18, fontweight='bold')
ax.vlines(years, -0.037, -0.065, transform=xt, colors='black', lw=1.6, clip_on=False)

# red series on the twin axes, inverted scale on the left
ax2.plot(red_time, red_value, color=RED, lw=2.8, zorder=3)
ax2.set_ylim(6.66, 0.665)
ax2.set_yticks(left_ticks)
ax2.set_yticklabels(left_labels)
for lab in ax2.get_yticklabels():
    if lab.get_text() == "4":
        lab.set_fontweight('bold')
        lab.set_fontsize(14.5)
ax2.tick_params(axis='y', direction='out', length=4.5, width=1.5, pad=6, labelsize=13,
                left=True, labelleft=True, right=False, labelright=False)
for sp in ax2.spines.values():
    sp.set_color(FRAME)
    sp.set_linewidth(1.6)
# last value marker on the left scale
ax2.plot([-0.0047], [red_value[-1]], marker='D', ms=8, color=RED,
         transform=ax2.get_yaxis_transform(), clip_on=False)

# texts
fig.text(14 / 1845, 1 - 32 / 1115, "Value", ha='left', va='center', fontsize=12.5)
fig.text(1789 / 1845, 1 - 64 / 1115, "Value", ha='left', va='center', fontsize=12.5)
fig.text(1789 / 1845, 1 - 94 / 1115, "MXN", ha='left', va='center', fontsize=12.5)
box = dict(boxstyle='square,pad=0.15', fc='white', ec='black', lw=1.2)
fig.text(44 / 1845, 1 - 1007 / 1115, ".123", ha='center', va='center', fontsize=13, bbox=box)
fig.text(1814 / 1845, 1 - 1007 / 1115, ".123", ha='center', va='center', fontsize=13, bbox=box)
fig.text(1762 / 1845, 1 - 1071 / 1115, "[Delayed]", ha='left', va='center', fontsize=12.5)
fig.add_artist(Line2D([1829 / 1845], [1 - 1039 / 1115], marker='o', ms=15, color='#0a8a0a',
                      transform=fig.transFigure))

fig.text(371 / 1845, 1 - 136 / 1115, "Riesgo México UM26", ha='center', va='baseline',
         fontsize=35, fontweight=500, color=RED, family=['Lato', 'DejaVu Sans'])
fig.text(371 / 1845, 1 - 213 / 1115, "- Escala Invertida-", ha='center', va='baseline',
         fontsize=32, fontweight=500, color=RED, family=['Lato', 'DejaVu Sans'])
fig.text(936 / 1845, 1 - 707 / 1115, "BMV/DJI", ha='center', va='baseline',
         fontsize=31, fontweight='bold', color='#0d3b6e', family=['Lato', 'DejaVu Sans'])

ax.annotate("", xy=(104 / 1845, 1 - 182 / 1115), xytext=(162 / 1845, 1 - 182 / 1115),
            xycoords='figure fraction', textcoords='figure fraction',
            arrowprops=dict(arrowstyle='->', color=RED, lw=1.3, mutation_scale=32))
ax.annotate("", xy=(973 / 1845, 1 - 757 / 1115), xytext=(870 / 1845, 1 - 757 / 1115),
            xycoords='figure fraction', textcoords='figure fraction',
            arrowprops=dict(arrowstyle='->', color='#0d3b6e', lw=1.4, mutation_scale=32))

# window frame of the screenshot
fig.add_artist(Line2D([0, 1], [1 - 1.5 / 1115] * 2, color='#e8771f', lw=2.2, transform=fig.transFigure))
fig.add_artist(Line2D([0, 1], [1 - 5 / 1115] * 2, color='#b8b8b8', lw=1.0, transform=fig.transFigure))
fig.add_artist(Line2D([1.5 / 1845] * 2, [0, 1 - 5 / 1115], color='#a0a0a0', lw=2.2,
                      transform=fig.transFigure))

fig.savefig("out.png", dpi=100, facecolor='white')
